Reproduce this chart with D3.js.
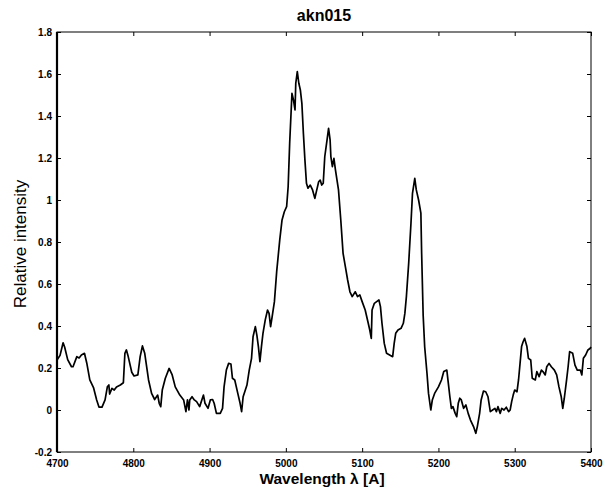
<!DOCTYPE html>
<html>
<head>
<meta charset="utf-8">
<script src="https://cdn.jsdelivr.net/npm/d3@7"></script>
<style>
  html, body { margin: 0; padding: 0; background: #fff; }
  svg { display: block; }
  text { font-family: "Liberation Sans", Arial, Helvetica, sans-serif; fill: #000; }
</style>
</head>
<body>
<svg id="chart" width="605" height="494"></svg>
<script>
// Spectrum of akn015: wavelength (Å) and relative intensity
const wavelength = [
  4700, 4704, 4708, 4710, 4714, 4719, 4721, 4726, 4729, 4732, 4736, 4739, 4743, 4748, 4752, 4755,
  4759, 4763, 4766, 4768, 4769, 4772, 4775, 4778, 4783, 4787, 4789, 4791, 4793, 4798, 4801, 4806,
  4809, 4812, 4815, 4820, 4824, 4828, 4832, 4834, 4836, 4838, 4842, 4847, 4851, 4855, 4861, 4866,
  4869, 4871, 4873, 4874, 4877, 4880, 4883, 4887, 4892, 4894, 4898, 4901, 4904, 4906, 4909, 4914,
  4917, 4919, 4922, 4925, 4928, 4930, 4933, 4937, 4940, 4942, 4944, 4949, 4952, 4955, 4957, 4960,
  4962, 4964, 4966, 4968, 4970, 4973, 4976, 4978, 4980, 4982, 4985, 4988, 4992, 4995, 4998, 5001,
  5003, 5005, 5008, 5010, 5012, 5013, 5015, 5017, 5019, 5021, 5023, 5025, 5027, 5029, 5032, 5035,
  5038, 5040, 5043, 5045, 5047, 5049, 5051, 5054, 5056, 5058, 5059, 5061, 5063, 5065, 5069, 5072,
  5075, 5078, 5081, 5084, 5087, 5091, 5094, 5097, 5100, 5104, 5108, 5110, 5112, 5113, 5116, 5119,
  5122, 5124, 5126, 5129, 5132, 5136, 5140, 5142, 5144, 5147, 5151, 5154, 5156, 5158, 5161, 5164,
  5166, 5169, 5171, 5174, 5177, 5178, 5180, 5182, 5185, 5187, 5190, 5192, 5195, 5200, 5204, 5207,
  5211, 5213, 5215, 5217, 5219, 5222, 5224, 5226, 5228, 5230, 5233, 5236, 5239, 5242, 5246, 5249,
  5251, 5254, 5256, 5259, 5262, 5265, 5268, 5271, 5274, 5276, 5278, 5281, 5283, 5286, 5289, 5292,
  5294, 5296, 5298, 5300, 5303, 5305, 5307, 5309, 5311, 5313, 5316, 5318, 5321, 5323, 5327, 5329,
  5332, 5335, 5337, 5340, 5342, 5345, 5348, 5352, 5355, 5358, 5361, 5363, 5365, 5368, 5370, 5372,
  5376, 5379, 5382, 5386, 5388, 5390, 5393, 5396, 5399, 5400
];
const intensity = [
  0.238, 0.26, 0.32, 0.30, 0.24, 0.206, 0.206, 0.254, 0.248, 0.262, 0.27, 0.224, 0.143, 0.105, 0.048, 0.014,
  0.014, 0.048, 0.11, 0.119, 0.076, 0.103, 0.095, 0.11, 0.119, 0.13, 0.27, 0.286, 0.26, 0.18, 0.162, 0.167,
  0.254, 0.305, 0.27, 0.143, 0.079, 0.05, 0.071, 0.032, 0.016, 0.095, 0.151, 0.198, 0.167, 0.11, 0.071, 0.048,
  -0.008, 0.048, 0.0, 0.048, 0.063, 0.048, 0.04, 0.016, 0.071, 0.032, 0.008, 0.048, 0.05, 0.032, -0.016, -0.016,
  0.008, 0.11, 0.19, 0.222, 0.219, 0.151, 0.143, 0.079, 0.032, -0.008, 0.063, 0.119, 0.19, 0.246, 0.349, 0.397,
  0.357, 0.302, 0.23, 0.302, 0.365, 0.429, 0.476, 0.46, 0.397, 0.444, 0.516, 0.66, 0.81, 0.905, 0.944, 0.968,
  1.063, 1.27, 1.508, 1.476, 1.429, 1.556, 1.611, 1.556, 1.524, 1.46, 1.317, 1.19, 1.08, 1.056, 1.071, 1.048,
  1.008, 1.04, 1.087, 1.095, 1.071, 1.08, 1.206, 1.286, 1.341, 1.286, 1.206, 1.159, 1.198, 1.143, 1.048, 0.905,
  0.746, 0.683, 0.619, 0.563, 0.54, 0.563, 0.54, 0.548, 0.516, 0.476, 0.413, 0.381, 0.341, 0.476, 0.508, 0.516,
  0.524, 0.492, 0.413, 0.317, 0.27, 0.262, 0.254, 0.317, 0.365, 0.381, 0.389, 0.413, 0.46, 0.54, 0.698, 0.889,
  1.032, 1.103, 1.048, 1.0, 0.937, 0.746, 0.45, 0.3, 0.175, 0.079, 0.0, 0.048, 0.079, 0.11, 0.143, 0.183,
  0.19, 0.127, 0.063, 0.008, 0.016, -0.016, -0.032, 0.032, 0.056, 0.048, 0.008, 0.024, -0.016, -0.048, -0.079, -0.111,
  -0.079, -0.016, 0.048, 0.09, 0.087, 0.063, -0.008, 0.0, 0.008, -0.008, 0.016, -0.016, 0.008, 0.0, 0.013, -0.008,
  0.0, 0.04, 0.071, 0.095, 0.087, 0.143, 0.222, 0.302, 0.325, 0.341, 0.302, 0.246, 0.238, 0.151, 0.143, 0.183,
  0.159, 0.19, 0.183, 0.167, 0.206, 0.222, 0.206, 0.19, 0.167, 0.11, 0.063, 0.008, 0.056, 0.143, 0.206, 0.278,
  0.27, 0.214, 0.19, 0.19, 0.167, 0.246, 0.262, 0.286, 0.294, 0.30
];

const xTicks = [4700, 4800, 4900, 5000, 5100, 5200, 5300, 5400];
const yTicks = [-0.2, 0, 0.2, 0.4, 0.6, 0.8, 1, 1.2, 1.4, 1.6, 1.8];

const titleText = "akn015";
const xLabelText = "Wavelength \u03bb [A]";
const yLabelText = "Relative intensity";

const svg = d3.select("#chart");
const margin = { left: 57, right: 14, top: 32, bottom: 42 };
const W = 605, H = 494;
const x0 = margin.left, x1 = W - margin.right;
const y0 = H - margin.bottom, y1 = margin.top;

const x = d3.scaleLinear().domain([4700, 5400]).range([x0, x1]);
const y = d3.scaleLinear().domain([-0.2, 1.8]).range([y0, y1]);

const fmt = d => (Math.abs(d) < 1e-9 ? "0" : String(+d.toFixed(1)));

// bottom axis with inward ticks
const gx = svg.append("g").attr("transform", `translate(0,${y0})`)
  .call(d3.axisBottom(x).tickValues(xTicks).tickSize(-4).tickPadding(8).tickFormat(d3.format("d")));
// left axis with inward ticks
const gy = svg.append("g").attr("transform", `translate(${x0},0)`)
  .call(d3.axisLeft(y).tickValues(yTicks).tickSize(-4).tickPadding(5).tickFormat(fmt));
// top and right mirror ticks
const gt = svg.append("g").attr("transform", `translate(0,${y1})`)
  .call(d3.axisTop(x).tickValues(xTicks).tickSize(-4).tickFormat(""));
const gr = svg.append("g").attr("transform", `translate(${x1},0)`)
  .call(d3.axisRight(y).tickValues(yTicks).tickSize(-4).tickFormat(""));

[gx, gy, gt, gr].forEach(g => {
  g.select(".domain").remove();
  g.selectAll(".tick line").attr("stroke", "#000").attr("stroke-width", 1);
  g.selectAll(".tick text")
    .style("font-family", "'Liberation Sans', Arial, sans-serif")
    .style("font-size", "10px")
    .style("font-weight", "bold")
    .attr("fill", "#000");
});

// frame
svg.append("rect")
  .attr("x", x0).attr("y", y1)
  .attr("width", x1 - x0).attr("height", y0 - y1)
  .attr("fill", "none").attr("stroke", "#000").attr("stroke-width", 1);
svg.append("line")
  .attr("x1", x0).attr("x2", x0).attr("y1", y1).attr("y2", y0)
  .attr("stroke", "#000").attr("stroke-width", 2.2);

// spectrum
const pts = wavelength.map((w, i) => [w, intensity[i]]);
svg.append("path")
  .datum(pts)
  .attr("fill", "none")
  .attr("stroke", "#000")
  .attr("stroke-width", 1.7)
  .attr("stroke-linejoin", "round")
  .attr("d", d3.line().x(d => x(d[0])).y(d => y(d[1])));

// title and axis labels
svg.append("text")
  .attr("x", (x0 + x1) / 2).attr("y", 21)
  .attr("text-anchor", "middle")
  .style("font-size", "16px")
  .style("font-weight", "bold")
  .text(titleText);

svg.append("text")
  .attr("x", 322).attr("y", 484)
  .attr("text-anchor", "middle")
  .style("font-size", "15.5px")
  .style("font-weight", "bold")
  .text(xLabelText);

svg.append("text")
  .attr("transform", `translate(26,${(y0 + y1) / 2 + 2}) rotate(-90)`)
  .attr("text-anchor", "middle")
  .style("font-size", "17px")
  .text(yLabelText);
</script>
</body>
</html>
